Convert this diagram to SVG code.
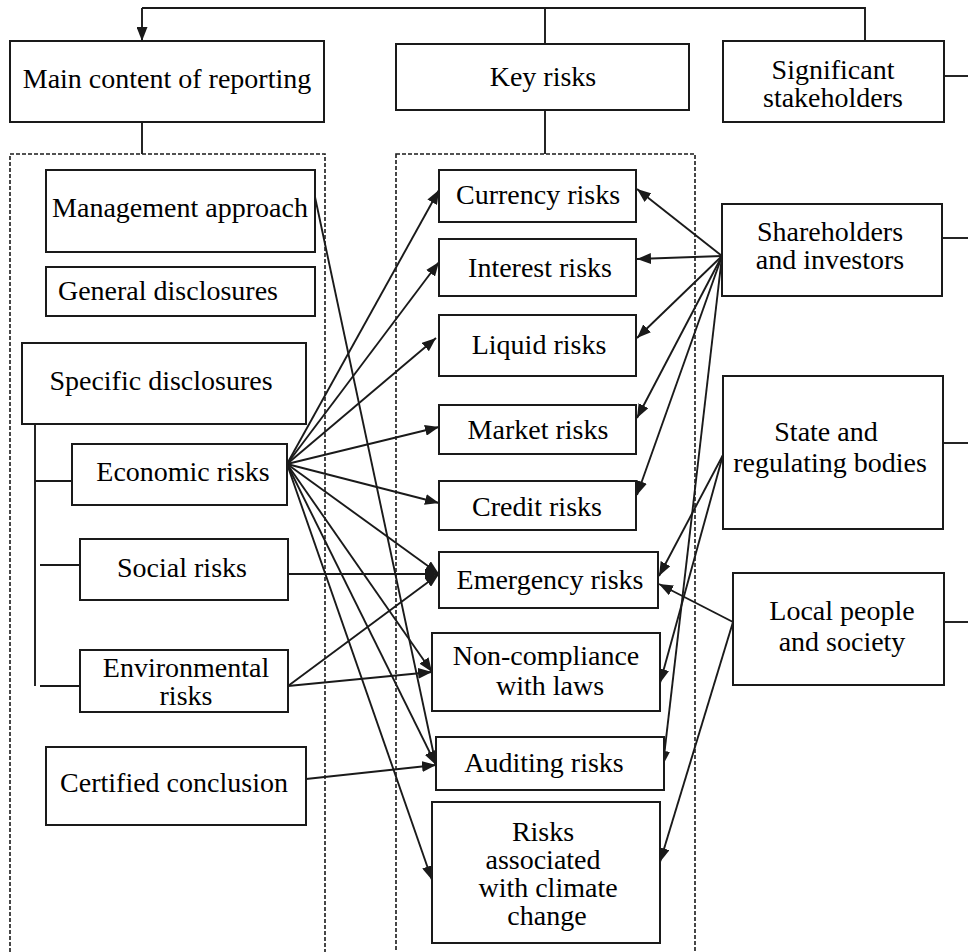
<svg xmlns="http://www.w3.org/2000/svg" width="968" height="952" viewBox="0 0 968 952">
  <style>
    .box { fill: #ffffff; stroke: #1a1a1a; stroke-width: 2; }
    .dash { fill: none; stroke: #1a1a1a; stroke-width: 1.6; stroke-dasharray: 4 2; }
    .ln { fill: none; stroke: #1a1a1a; stroke-width: 1.9; }
    .arr { fill: none; stroke: #1a1a1a; stroke-width: 1.9; marker-end: url(#head); }
    .lbl text { font-size: 28px; fill: #000; text-anchor: middle; }
  </style>
  <defs>
    <marker id="head" markerUnits="userSpaceOnUse" markerWidth="15" markerHeight="11" refX="14" refY="5.5" orient="auto">
      <path d="M0,0 L14,5.5 L0,11 Z" fill="#1a1a1a"/>
    </marker>
  </defs>

  <rect width="968" height="952" fill="#ffffff"/>

  <!-- dashed column frames -->
  <g id="frames">
    <rect class="dash" x="10" y="154" width="315" height="810"/>
    <rect class="dash" x="396" y="154" width="299" height="810"/>
  </g>

  <!-- connectors -->
  <g id="connectors">
    <!-- top bus -->
    <path class="ln" d="M865,41 V8 H142"/>
    <path class="arr" d="M142,8 V41"/>
    <path class="ln" d="M545,8 V44"/>
    <path class="ln" d="M142,122 V154"/>
    <path class="ln" d="M545,110 V154"/>
    <!-- stakeholder stubs to the right edge -->
    <path class="ln" d="M944,76 H968"/>
    <path class="ln" d="M942,238 H968"/>
    <path class="ln" d="M943,443 H968"/>
    <path class="ln" d="M944,622 H968"/>
    <!-- specific disclosures tree -->
    <path class="ln" d="M35,424 V686"/>
    <path class="ln" d="M35,481 H72"/>
    <path class="ln" d="M40,565 H80"/>
    <path class="ln" d="M40,686 H80"/>

    <!-- economic risks fan -->
    <path class="arr" d="M287,464 L439,190"/>
    <path class="arr" d="M287,464 L439,262"/>
    <path class="arr" d="M287,464 L436,338"/>
    <path class="arr" d="M287,464 L439,427"/>
    <path class="arr" d="M287,464 L439,503"/>
    <path class="arr" d="M287,464 L439,574"/>
    <path class="arr" d="M287,464 L432,672"/>
    <path class="arr" d="M287,464 L436,765"/>
    <path class="arr" d="M287,464 L432,880"/>
    <!-- management approach -->
    <path class="arr" d="M315,197 L436,765"/>
    <!-- social risks -->
    <path class="arr" d="M288,574 L439,574"/>
    <!-- environmental risks -->
    <path class="arr" d="M288,686 L439,574"/>
    <path class="arr" d="M288,686 L432,672"/>
    <!-- certified conclusion -->
    <path class="arr" d="M306,779 L436,765"/>

    <!-- shareholders and investors -->
    <path class="arr" d="M722,256 L637,189"/>
    <path class="arr" d="M722,256 L637,259"/>
    <path class="arr" d="M722,256 L637,338"/>
    <path class="arr" d="M722,256 L637,418"/>
    <path class="arr" d="M722,256 L637,495"/>
    <path class="arr" d="M722,256 L663,765"/>
    <!-- state and regulating bodies -->
    <path class="arr" d="M723,455 L659,576"/>
    <path class="arr" d="M723,455 L660,683"/>
    <!-- local people and society -->
    <path class="arr" d="M733,622 L659,584"/>
    <path class="arr" d="M733,622 L660,862"/>
  </g>

  <g class="lbl" font-family="Liberation Serif, DejaVu Serif, serif">
  <!-- column headers -->
  <g id="main-content">
    <rect class="box" x="10" y="41" width="314" height="81"/>
    <text x="167" y="88">Main content of reporting</text>
  </g>
  <g id="key-risks">
    <rect class="box" x="396" y="44" width="293" height="66"/>
    <text x="543" y="86">Key risks</text>
  </g>
  <g id="significant-stakeholders">
    <rect class="box" x="723" y="41" width="221" height="81"/>
    <text x="833" y="79">Significant</text>
    <text x="833" y="107">stakeholders</text>
  </g>

  <!-- reporting content -->
  <g id="management-approach">
    <rect class="box" x="46" y="170" width="269" height="82"/>
    <text x="180" y="217">Management approach</text>
  </g>
  <g id="general-disclosures">
    <rect class="box" x="46" y="267" width="269" height="49"/>
    <text x="168" y="300">General disclosures</text>
  </g>
  <g id="specific-disclosures">
    <rect class="box" x="22" y="343" width="284" height="81"/>
    <text x="161" y="390">Specific disclosures</text>
  </g>
  <g id="economic-risks">
    <rect class="box" x="72" y="444" width="215" height="61"/>
    <text x="183" y="481">Economic risks</text>
  </g>
  <g id="social-risks">
    <rect class="box" x="80" y="539" width="208" height="61"/>
    <text x="182" y="577">Social risks</text>
  </g>
  <g id="environmental-risks">
    <rect class="box" x="80" y="650" width="208" height="62"/>
    <text x="186" y="677">Environmental</text>
    <text x="186" y="705">risks</text>
  </g>
  <g id="certified-conclusion">
    <rect class="box" x="46" y="747" width="260" height="78"/>
    <text x="174" y="792">Certified conclusion</text>
  </g>

  <!-- key risks -->
  <g id="currency-risks">
    <rect class="box" x="439" y="170" width="197" height="52"/>
    <text x="538" y="204">Currency risks</text>
  </g>
  <g id="interest-risks">
    <rect class="box" x="439" y="239" width="197" height="57"/>
    <text x="540" y="277">Interest risks</text>
  </g>
  <g id="liquid-risks">
    <rect class="box" x="439" y="315" width="197" height="61"/>
    <text x="539" y="354">Liquid risks</text>
  </g>
  <g id="market-risks">
    <rect class="box" x="439" y="405" width="197" height="49"/>
    <text x="538" y="439">Market risks</text>
  </g>
  <g id="credit-risks">
    <rect class="box" x="439" y="481" width="197" height="49"/>
    <text x="537" y="516">Credit risks</text>
  </g>
  <g id="emergency-risks">
    <rect class="box" x="439" y="552" width="219" height="56"/>
    <text x="550" y="589">Emergency risks</text>
  </g>
  <g id="non-compliance">
    <rect class="box" x="432" y="633" width="228" height="78"/>
    <text x="546" y="665">Non-compliance</text>
    <text x="550" y="695">with laws</text>
  </g>
  <g id="auditing-risks">
    <rect class="box" x="436" y="737" width="228" height="53"/>
    <text x="544" y="772">Auditing risks</text>
  </g>
  <g id="climate-risks">
    <rect class="box" x="432" y="802" width="228" height="141"/>
    <text x="543" y="841">Risks</text>
    <text x="543" y="869">associated</text>
    <text x="548" y="897">with climate</text>
    <text x="547" y="925">change</text>
  </g>

  <!-- stakeholders -->
  <g id="shareholders">
    <rect class="box" x="722" y="204" width="220" height="92"/>
    <text x="830" y="241">Shareholders</text>
    <text x="830" y="269">and investors</text>
  </g>
  <g id="state-bodies">
    <rect class="box" x="723" y="376" width="220" height="153"/>
    <text x="826" y="441">State and</text>
    <text x="830" y="472">regulating bodies</text>
  </g>
  <g id="local-people">
    <rect class="box" x="733" y="573" width="211" height="112"/>
    <text x="842" y="620">Local people</text>
    <text x="842" y="651">and society</text>
  </g>
  </g>
</svg>
